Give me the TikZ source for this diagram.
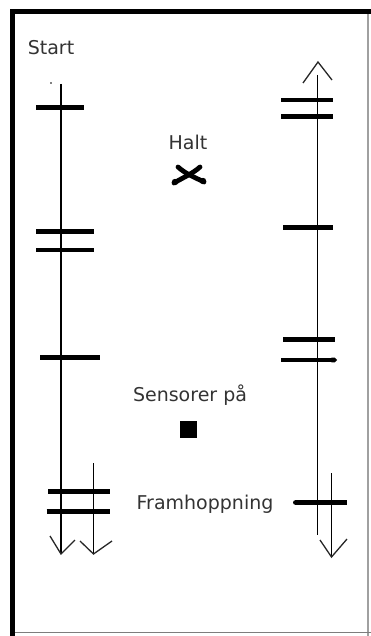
\documentclass[tikz,border=0pt]{standalone}
\usepackage{fontspec}
\setmainfont{DejaVu Sans}
\usetikzlibrary{arrows.meta}

\definecolor{skText}{RGB}{51,51,51}
\definecolor{skFrameA}{RGB}{125,125,125}
\definecolor{skFrameB}{RGB}{160,160,160}

\tikzset{
  rail/.style={black, line width=1.6pt},
  bar/.style={black, line width=4.6pt},
  barb/.style={black!85, line width=1.3pt, line join=miter},
  lbl/.style={text=skText, font=\fontsize{19}{22}\selectfont, inner sep=0pt},
}

\begin{document}
\begin{tikzpicture}[x=1pt, y=-1pt]
\useasboundingbox (0,0) rectangle (371,636);

%% frame
\draw[skFrameB, line width=1.4pt] (368,12) -- (368,636);
\draw[skFrameA, line width=1.6pt] (12,632.5) -- (371,632.5);
\draw[black, line width=4.2pt] (12.5,9.5) -- (12.5,636);
\draw[black, line width=4.5pt] (10.5,11.5) -- (371,11.5);

%% labels
\node[lbl] (start) at (51,47.5) {Start};
\node[lbl] (halt) at (188,142.5) {Halt};
\node[lbl] (sens) at (190,395) {Sensorer på};
\node[lbl] (fram) at (205,504) {Framhoppning};

%% halt symbol and sensor square
\begin{scope}[line width=4.8pt, line cap=round]
  \draw (178,167) .. controls (186,174) and (192,176) .. (204,182);
  \draw (174,183) .. controls (184,177) and (192,174) .. (200,167);
  \fill (175,182) circle (3.2pt) (203,181) circle (3.2pt);
\end{scope}
\fill (180,421) rectangle (197,438);

%% left rails
\coordinate (lTop) at (61,84);
\coordinate (lEnd) at (61,554);
\coordinate (lTwoTop) at (93.5,463);
\coordinate (lTwoEnd) at (93.5,554);
\fill (51,83) circle (0.8pt);
\draw[rail] (lTop) -- (lEnd);
\draw[rail] (lTwoTop) -- (lTwoEnd);
\draw[barb] (50,536) -- (lEnd) -- (75,540);
\draw[barb] (80,541) -- (lTwoEnd) -- (112,541);

\draw[bar] (36,107.5) -- (84,107.5);
\draw[bar] (36,231.5) -- (94,231.5);
\draw[bar] (36,250) -- (94,250);
\draw[bar] (40,357.5) -- (100,357.5);
\draw[bar] (48,491.5) -- (110,491.5);
\draw[bar] (46.5,511.5) -- (110,511.5);

%% right rails
\coordinate (rTip) at (318,62);
\coordinate (rTop) at (317.5,75);
\coordinate (rEnd) at (317.5,535);
\coordinate (rTwoTop) at (331.5,473);
\coordinate (rTwoEnd) at (331.5,557);
\draw[rail] (rTop) -- (rEnd);
\draw[rail] (rTwoTop) -- (rTwoEnd);
\draw[barb] (303,83) -- (rTip) -- (332,80);
\draw[barb] (320,540) -- (rTwoEnd) -- (347,539);

\draw[bar] (281,100) -- (333,100);
\draw[bar] (281,116.5) -- (333,116.5);
\draw[bar] (283,227.5) -- (333,227.5);
\draw[bar] (283,339.5) -- (335,339.5);
\draw[bar, -{Triangle Cap[]}] (281,360) -- (337,360);
\draw[bar, {Round Cap[]}-] (293,502.5) -- (346.5,502.5);
\end{tikzpicture}
\end{document}
